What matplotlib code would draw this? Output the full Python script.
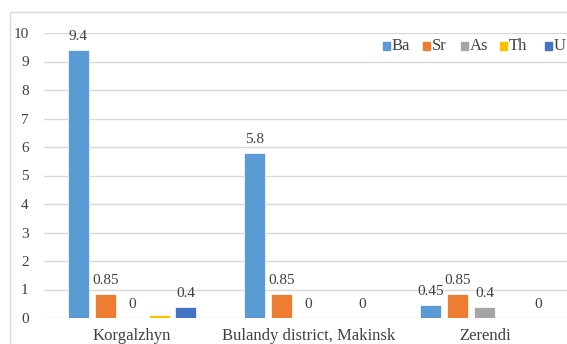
import numpy as np
import matplotlib
matplotlib.use('Agg')
import matplotlib.pyplot as plt
from matplotlib.patches import Rectangle

# data
regions = ['Korgalzhyn', 'Bulandy district, Makinsk', 'Zerendi']
elements = ['Ba', 'Sr', 'As', 'Th', 'U']
ba = [9.4, 5.8, 0.45]
sr = [0.85, 0.85, 0.85]
as_ = [0, 0, 0.4]
th = [0.12, np.nan, np.nan]
u = [0.4, 0, 0]
show_label = {'Th': False}
colors = ['#5B9BD5', '#ED7D31', '#A5A5A5', '#FFC000', '#4472C4']

series = [ba, sr, as_, th, u]

plt.rcParams['font.family'] = ['Liberation Serif', 'DejaVu Serif']
txt = '#404040'

W, H = 567, 344
fig = plt.figure(figsize=(W/100, H/100), dpi=100)
ax = fig.add_axes([44/W, 26/H, 1 - 44/W, (318-33)/H])

# outer chart frame (cropped on right/bottom)
fig.patches.append(Rectangle((10/W, -0.1), 1.2, 1 - 12/H + 0.1,
                             transform=fig.transFigure, fill=False,
                             edgecolor='#d9d9d9', linewidth=1))

x = np.arange(len(regions))
step = 0.1526
width = 0.119
for i, (name, vals, c) in enumerate(zip(elements, series, colors)):
    pos = x + (i - 2) * step
    ax.bar(pos, vals, width, color=c, edgecolor='white', linewidth=0.5, zorder=3)
    if show_label.get(name, True):
        for p, v in zip(pos, vals):
            if np.isnan(v):
                continue
            ax.annotate('%g' % v, (p, v), xytext=(0, 5), textcoords='offset points',
                        ha='center', va='bottom', fontsize=11, color=txt)

ax.set_xlim(-0.5, -0.5 + (W - 44) / 176.3)
ax.set_ylim(0, 10)
ax.set_yticks(range(0, 11))
ax.set_xticks(x)
ax.set_xticklabels(regions)
ax.grid(axis='y', color='#d9d9d9', linewidth=1, zorder=0)
ax.tick_params(axis='y', length=0, pad=11, labelsize=11, labelcolor=txt)
ax.tick_params(axis='x', length=0, pad=7, labelsize=12, labelcolor=txt)
for s in ax.spines.values():
    s.set_visible(False)

# legend, laid out like the original (top right, inside the plot)
leg_x = [383, 423, 461, 500, 545]
leg_y = 1 - 46/H
for lx, name, c in zip(leg_x, elements, colors):
    fig.patches.append(Rectangle((lx/W, leg_y - 3.5/H), 7/W, 7/H,
                                 transform=fig.transFigure, color=c))
    fig.text((lx + 9)/W, leg_y, name, ha='left', va='center', fontsize=12, color=txt)

fig.savefig('out.png', dpi=100)
